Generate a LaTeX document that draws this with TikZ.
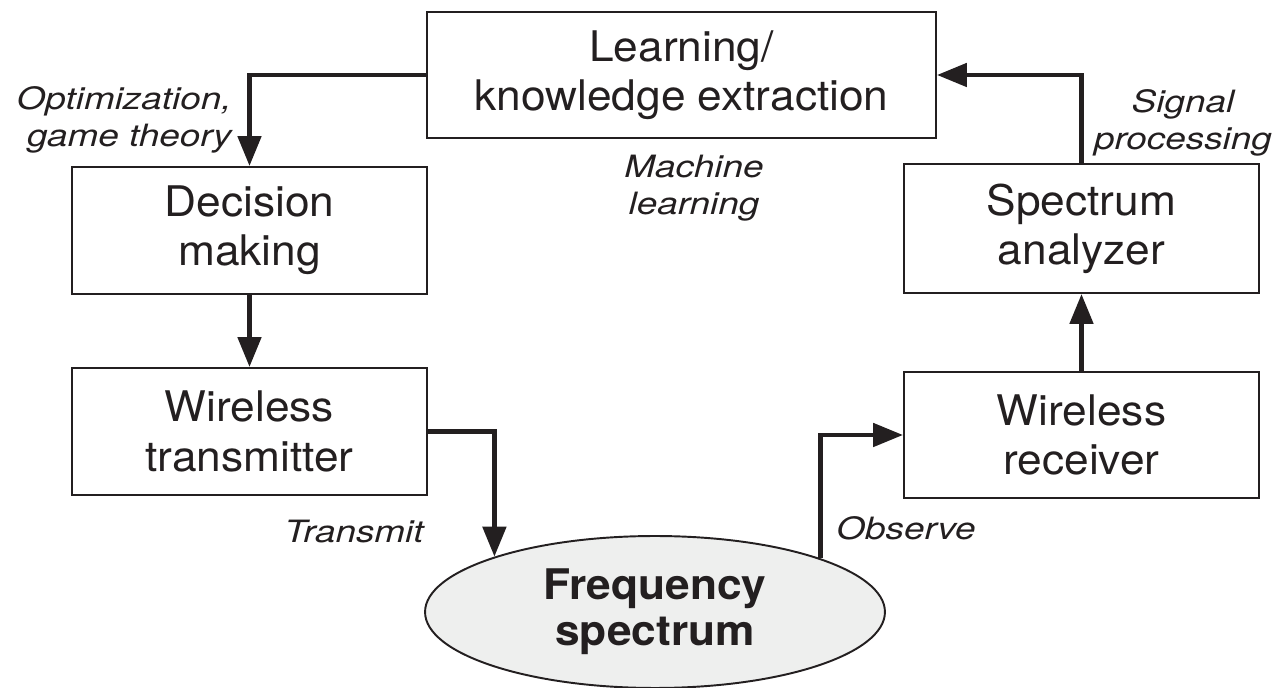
\documentclass[tikz,border=0pt]{standalone}
\usepackage{fontspec}
\setmainfont{TeX Gyre Heros}[FakeStretch=1.05]
\newfontfamily\lblfont{TeX Gyre Heros}[FakeStretch=1.2]
\usetikzlibrary{arrows.meta,shapes.geometric}
\definecolor{ink}{HTML}{231F20}
\definecolor{specgray}{HTML}{EEEFEE}
\tikzset{
  blk/.style={draw=ink, line width=1.1pt, minimum width=7.1cm, minimum height=2.54cm,
    align=center, inner sep=0pt, text=ink, font=\fontsize{24}{28}\selectfont,
    execute at begin node=\rule{0pt}{23pt}},
  lbl/.style={inner sep=0pt, text=ink, font=\lblfont\itshape\fontsize{17.5}{21}\selectfont},
  arr/.style={draw=ink, line width=2.8pt, -{Triangle[length=0.6cm,width=0.46cm]}},
}
\begin{document}
\begin{tikzpicture}[x=0.02cm, y=-0.02cm]
      \useasboundingbox (0,0) rectangle (1278,688);
      % blocks
      \node[blk, minimum width=10.18cm, minimum height=2.52cm] (learn) at (681.5,75) {Learning/\\knowledge extraction};
      \node[blk] (dec) at (249.5,230.5) {Decision\\making};
      \node[blk] (tx) at (249.5,431.5) {Wireless\\transmitter};
      \node[blk, minimum height=2.58cm] (ana) at (1081.5,228.5) {Spectrum\\analyzer};
      \node[blk, minimum height=2.52cm] (rx) at (1081.5,435) {Wireless\\receiver};
      \node[ellipse, draw=ink, line width=1.1pt, fill=specgray, minimum width=9.2cm, minimum height=3.04cm,
        align=center, inner sep=0pt, text=ink, font=\bfseries\fontsize{24}{26}\selectfont,
        execute at begin node=\rule{0pt}{25pt}] (freq) at (655,612) {Frequency\\spectrum};
      % labels
      \node[lbl, anchor=east, align=right] (optlbl) at (232,120) {Optimization,\\game theory};
      \node[lbl, align=center] (mllbl) at (694,188) {Machine\\learning};
      \node[lbl, align=center] (splbl) at (1183,123) {Signal\\processing};
      \node[lbl] (txlbl) at (354,532) {Transmit};
      \node[lbl] (oblbl) at (906,528) {Observe};
      \begin{scope}[arr]
        \draw (learn.west) -| (dec.north);
        \draw (dec) -- (tx);
        \draw (tx.east) -| (freq.161.6);
        \draw (freq.18.4) |- (rx.west);
        \draw (rx) -- (ana);
        \draw (ana.north) |- (learn.east);
      \end{scope}
    \end{tikzpicture}
\end{document}
